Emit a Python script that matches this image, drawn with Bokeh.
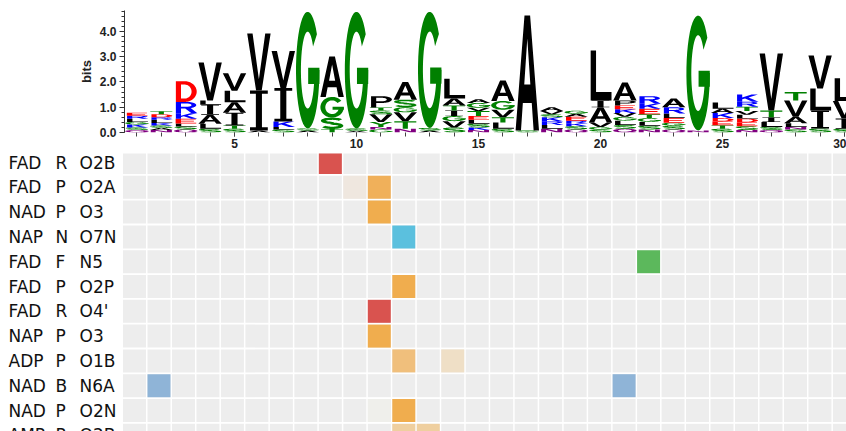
import math
from bokeh.plotting import figure
from bokeh.models import Range1d, FixedTicker, PrintfTickFormatter, ColumnDataSource
from bokeh.embed import file_html
from bokeh.resources import INLINE
from bokeh.core.properties import value

# ---------------- data ----------------
positions = list(range(1, 31))
# letters of each stack, bottom -> top, and their heights in bits
stack_letters = [
    "QSKGLRE", "NASKLRDT", "QSLEKRD", "SLAILV", "STIALV", "AIV", "SLKIV", "ASG",
    "TSGA", "ASG", "GNYVSTP", "NTVGSA", "ASG", "SVGITAL", "NKSLETVGA", "SLTVGA",
    "SA", "NLRKSVA", "QSKREAG", "SGVAIL", "QSLGVKEPA", "NSLGTEKR", "QSGELRA", "NG",
    "STEDKAL", "NSEDLVTRK", "QSLITV", "SNLAVT", "SILV", "SIVL",
]
stack_bits = [
    [0.10, 0.10, 0.12, 0.10, 0.12, 0.12, 0.12],
    [0.10, 0.08, 0.10, 0.10, 0.12, 0.10, 0.12, 0.12],
    [0.12, 0.12, 0.12, 0.18, 0.22, 0.45, 0.82],
    [0.15, 0.20, 0.35, 0.40, 0.17, 1.50],
    [0.15, 0.13, 0.50, 0.42, 0.45, 0.70],
    [0.08, 1.58, 2.26],
    [0.12, 0.10, 0.22, 1.32, 1.47],
    [0.08, 0.08, 4.62],
    [0.14, 0.45, 0.82, 1.60],
    [0.06, 0.10, 4.62],
    [0.12, 0.10, 0.20, 0.30, 0.15, 0.12, 0.45],
    [0.15, 0.30, 0.35, 0.20, 0.30, 0.70],
    [0.08, 0.10, 4.60],
    [0.20, 0.25, 0.20, 0.22, 0.20, 0.28, 0.78],
    [0.10, 0.10, 0.15, 0.15, 0.15, 0.20, 0.13, 0.19, 0.15],
    [0.15, 0.25, 0.20, 0.30, 0.35, 0.81],
    [0.08, 4.55],
    [0.15, 0.15, 0.15, 0.15, 0.12, 0.13, 0.15],
    [0.12, 0.13, 0.12, 0.10, 0.15, 0.12, 0.12],
    [0.12, 0.10, 0.18, 0.60, 0.27, 1.98],
    [0.15, 0.15, 0.17, 0.15, 0.15, 0.15, 0.15, 0.20, 0.71],
    [0.12, 0.15, 0.15, 0.15, 0.15, 0.22, 0.20, 0.30],
    [0.12, 0.15, 0.12, 0.18, 0.18, 0.25, 0.35],
    [0.08, 4.55],
    [0.15, 0.14, 0.15, 0.13, 0.20, 0.17, 0.25],
    [0.10, 0.15, 0.15, 0.15, 0.15, 0.15, 0.17, 0.20, 0.28],
    [0.10, 0.12, 0.20, 0.18, 0.27, 2.26],
    [0.12, 0.10, 0.15, 0.25, 0.65, 0.33],
    [0.16, 0.71, 0.87, 1.31],
    [0.15, 0.40, 0.70, 0.90],
]
x_tick_values = [5, 10, 15, 20, 25, 30]
y_tick_values = [0, 1, 2, 3, 4]

row_ligand = ["FAD", "FAD", "NAD", "NAP", "FAD", "FAD", "FAD", "NAP", "ADP", "NAD", "NAD", "AMP"]
row_type = ["R", "P", "P", "N", "F", "P", "R", "P", "P", "B", "P", "R"]
row_atom = ["O2B", "O2A", "O3", "O7N", "N5", "O2P", "O4'", "O3", "O1B", "N6A", "O2N", "O2B"]

hit_row = [1, 2, 2, 3, 4, 5, 6, 7, 8, 9, 9, 10, 10, 11, 11, 12, 12]
hit_col = [9, 10, 11, 11, 12, 22, 12, 11, 11, 12, 14, 2, 21, 11, 12, 12, 13]
hit_color = ["#d9534f", "#efe7df", "#f0b05a", "#f0ad4e", "#5bc0de", "#5cb85c", "#f0ad4e",
             "#d9534f", "#f0ad4e", "#f0bf7c", "#efdfc6", "#8fb4d7", "#8fb4d7", "#efefeb",
             "#f0ad4e", "#efcf9f", "#efcf9f"]

# ---------------- letter shapes (unit box) ----------------
def arc(cx, cy, rx, ry, a0, a1, n=40):
    pts = []
    for i in range(n + 1):
        a = math.radians(a0 + (a1 - a0) * i / n)
        pts.append((cx + rx * math.cos(a), cy + ry * math.sin(a)))
    return pts

def stroke(path, t):
    left, right = [], []
    n = len(path)
    for i, (x, y) in enumerate(path):
        xa, ya = path[max(i - 1, 0)]
        xb, yb = path[min(i + 1, n - 1)]
        dx, dy = xb - xa, yb - ya
        L = math.hypot(dx, dy) or 1.0
        nx, ny = -dy / L, dx / L
        left.append((x + nx * t, y + ny * t))
        right.append((x - nx * t, y - ny * t))
    return left + right[::-1]

def box(x0, y0, x1, y1):
    return [(x0, y0), (x1, y0), (x1, y1), (x0, y1)]

def ellipse(cx, cy, rx, ry):
    return arc(cx, cy, rx, ry, 0, 360, 60)[:-1]

SHAPES = {
    "A": [[[(0, 0), (0.23, 0), (0.31, 0.24), (0.69, 0.24), (0.77, 0), (1, 0), (0.62, 1), (0.38, 1)],
           [(0.37, 0.40), (0.63, 0.40), (0.5, 0.80)]]],
    "V": [[[(0, 1), (0.23, 1), (0.5, 0.2), (0.77, 1), (1, 1), (0.62, 0), (0.38, 0)]]],
    "L": [[[(0.08, 0), (0.97, 0), (0.97, 0.17), (0.31, 0.17), (0.31, 1), (0.08, 1)]]],
    "I": [[[(0.12, 0), (0.88, 0), (0.88, 0.08), (0.63, 0.08), (0.63, 0.92), (0.88, 0.92), (0.88, 1),
            (0.12, 1), (0.12, 0.92), (0.37, 0.92), (0.37, 0.08), (0.12, 0.08)]]],
    "G": [[arc(.5, .5, .5, .5, 38, 360) + arc(.5, .5, .29, .33, 360, 38)],
          [box(0.52, 0.38, 1.0, 0.52)]],
    "C": [[arc(.5, .5, .5, .5, 35, 325) + arc(.5, .5, .29, .33, 325, 35)]],
    "Q": [[ellipse(.5, .5, .5, .5), ellipse(.5, .5, .29, .33)],
          [[(0.55, 0.3), (0.72, 0.32), (1.0, 0.02), (0.83, 0.0)]]],
    "D": [[[(0.08, 0), (0.45, 0)] + arc(0.45, 0.5, 0.52, 0.5, -90, 90)[1:-1] + [(0.45, 1), (0.08, 1)],
           [(0.30, 0.16), (0.45, 0.16)] + arc(0.45, 0.5, 0.3, 0.34, -90, 90)[1:-1] + [(0.45, 0.84), (0.30, 0.84)]]],
    "R": [[[(0.08, 0), (0.3, 0), (0.3, 0.42), (0.48, 0.42), (0.75, 0), (1.0, 0), (0.71, 0.46)]
           + arc(0.55, 0.72, 0.4, 0.28, -65, 90)[1:] + [(0.08, 1)],
           [(0.3, 0.58), (0.55, 0.58)] + arc(0.55, 0.72, 0.2, 0.14, -90, 90)[1:-1] + [(0.55, 0.86), (0.3, 0.86)]]],
    "P": [[[(0.08, 0), (0.3, 0), (0.3, 0.4), (0.55, 0.4)] + arc(0.55, 0.7, 0.42, 0.3, -90, 90)[1:-1] + [(0.55, 1), (0.08, 1)],
           [(0.3, 0.55), (0.55, 0.55)] + arc(0.55, 0.7, 0.2, 0.15, -90, 90)[1:-1] + [(0.55, 0.85), (0.3, 0.85)]]],
    "K": [[[(0.08, 0), (0.3, 0), (0.3, 0.33), (0.42, 0.46), (0.74, 0), (1, 0), (0.57, 0.6), (0.97, 1),
            (0.7, 1), (0.3, 0.58), (0.3, 1), (0.08, 1)]]],
    "T": [[[(0.39, 0), (0.61, 0), (0.61, 0.83), (0.97, 0.83), (0.97, 1), (0.03, 1), (0.03, 0.83), (0.39, 0.83)]]],
    "S": [[stroke(arc(0.5, 0.72, 0.38, 0.18, 20, 270, 30) + arc(0.5, 0.28, 0.38, 0.18, 90, -160, 30), 0.1)]],
    "Y": [[[(0, 1), (0.25, 1), (0.5, 0.6), (0.75, 1), (1, 1), (0.61, 0.42), (0.61, 0), (0.39, 0), (0.39, 0.42)]]],
    "E": [[[(0.07, 0), (0.95, 0), (0.95, 0.16), (0.3, 0.16), (0.3, 0.43), (0.85, 0.43), (0.85, 0.58),
            (0.3, 0.58), (0.3, 0.84), (0.93, 0.84), (0.93, 1), (0.07, 1)]]],
    "F": [[[(0.07, 0), (0.3, 0), (0.3, 0.42), (0.85, 0.42), (0.85, 0.58), (0.3, 0.58), (0.3, 0.84),
            (0.95, 0.84), (0.95, 1), (0.07, 1)]]],
    "N": [[[(0.05, 0), (0.26, 0), (0.26, 0.65), (0.72, 0), (0.95, 0), (0.95, 1), (0.74, 1), (0.74, 0.35),
            (0.28, 1), (0.05, 1)]]],
    "M": [[[(0.03, 0), (0.22, 0), (0.22, 0.7), (0.42, 0), (0.58, 0), (0.78, 0.7), (0.78, 0), (0.97, 0),
            (0.97, 1), (0.7, 1), (0.5, 0.32), (0.3, 1), (0.03, 1)]]],
    "H": [[[(0.05, 0), (0.27, 0), (0.27, 0.42), (0.73, 0.42), (0.73, 0), (0.95, 0), (0.95, 1), (0.73, 1),
            (0.73, 0.58), (0.27, 0.58), (0.27, 1), (0.05, 1)]]],
    "W": [[[(0, 1), (0.18, 1), (0.3, 0.3), (0.42, 1), (0.58, 1), (0.7, 0.3), (0.82, 1), (1, 1), (0.8, 0),
            (0.6, 0), (0.5, 0.6), (0.4, 0), (0.2, 0)]]],
}

GREEN, PURPLE, BLUE, RED, BLACK = "#008000", "#800080", "#0000ff", "#ff0000", "#000000"
CHEM = {}
for c in "GSTYC":
    CHEM[c] = GREEN
for c in "NQ":
    CHEM[c] = PURPLE
for c in "KRH":
    CHEM[c] = BLUE
for c in "DE":
    CHEM[c] = RED
for c in "AVLIPWFM":
    CHEM[c] = BLACK

LETTER_W = 0.96
xs, ys, cols = [], [], []
for p, letters, bits in zip(positions, stack_letters, stack_bits):
    y0 = 0.0
    for ch, h in zip(letters, bits):
        for poly in SHAPES[ch]:
            xs.append([[[p - LETTER_W / 2 + LETTER_W * u for (u, v) in ring] for ring in poly]])
            ys.append([[[y0 + h * v for (u, v) in ring] for ring in poly]])
            cols.append(CHEM[ch])
        y0 += h

logo_src = ColumnDataSource(dict(xs=xs, ys=ys, color=cols))

# ---------------- logo figure ----------------
W = 846
LOGO_H = 153
PX = 24.4            # pixels per position in the logo
FRAME_LEFT = 124     # px from figure edge
POS1_PX = 12.4       # position 1 offset from frame left
lx0 = 1 - POS1_PX / PX
lx1 = lx0 + (W - FRAME_LEFT) / PX

p1 = figure(width=W, height=LOGO_H, x_range=Range1d(lx0, lx1), y_range=Range1d(0, 4.83),
            output_backend="svg", toolbar_location=None,
            min_border_left=FRAME_LEFT, min_border_right=0, min_border_top=10, min_border_bottom=21)
p1.outline_line_color = None
p1.xgrid.visible = False
p1.ygrid.visible = False
p1.multi_polygons(xs="xs", ys="ys", fill_color="color", line_color=None, source=logo_src)

xa = p1.xaxis[0]
xa.ticker = FixedTicker(ticks=x_tick_values, minor_ticks=positions)
xa.axis_line_color = None
xa.major_tick_in = 0
xa.major_tick_out = 4
xa.minor_tick_in = 0
xa.minor_tick_out = 4
xa.major_tick_line_color = "#444444"
xa.minor_tick_line_color = "#444444"
xa.major_label_standoff = 2
xa.major_label_text_font = "Liberation Sans"
xa.major_label_text_font_style = "bold"
xa.major_label_text_font_size = "12px"
xa.major_label_text_color = "#222222"

ya = p1.yaxis[0]
ya.ticker = FixedTicker(ticks=y_tick_values, minor_ticks=[round(0.2 * k, 1) for k in range(25)])
ya.formatter = PrintfTickFormatter(format="%.1f")
ya.axis_line_color = "#333333"
ya.major_tick_in = 0
ya.major_tick_out = 5
ya.minor_tick_in = 0
ya.minor_tick_out = 3
ya.major_tick_line_color = "#333333"
ya.minor_tick_line_color = "#333333"
ya.major_label_standoff = 3
ya.major_label_text_font = "Liberation Sans"
ya.major_label_text_font_style = "bold"
ya.major_label_text_font_size = "12px"
ya.major_label_text_color = "#222222"
ya.axis_label = "bits"
ya.axis_label_text_font = "Liberation Sans"
ya.axis_label_text_font_style = "bold"
ya.axis_label_text_font_size = "13px"
ya.axis_label_text_color = "#222222"
ya.axis_label_standoff = 3

# ---------------- heatmap figure ----------------
HM_H = 431 - LOGO_H
HPX = 24.48          # pixels per column
VPX = 24.8           # pixels per row
COL1_PX = 134        # centre of column 1 from figure left
ROW1_PX = 9          # centre of row 1 from figure top
hx0 = 1 - COL1_PX / HPX
hx1 = hx0 + W / HPX
hy_top = 1 - ROW1_PX / VPX
hy_bot = hy_top + HM_H / VPX

p2 = figure(width=W, height=HM_H, x_range=Range1d(hx0, hx1), y_range=Range1d(hy_bot, hy_top),
            output_backend="svg", toolbar_location=None, x_axis_location=None, y_axis_location=None,
            min_border=0)
p2.outline_line_color = None
p2.xgrid.visible = False
p2.ygrid.visible = False

nrows = len(row_ligand)
gx = [c for r in range(1, nrows + 1) for c in positions]
gy = [r for r in range(1, nrows + 1) for c in positions]
p2.rect(x=gx, y=gy, width=23 / HPX, height=23 / VPX, fill_color="#ededed", line_color=None)
p2.rect(x=hit_col, y=hit_row, width=23 / HPX, height=23 / VPX, fill_color=hit_color, line_color=None)

rows = list(range(1, nrows + 1))
def px_to_hx(px):
    return hx0 + px / HPX
for texts, px in ((row_ligand, 8), (row_type, 55), (row_atom, 79)):
    p2.text(x=[px_to_hx(px)] * nrows, y=rows, text=texts, text_font=value("DejaVu Sans"),
            text_font_size="17px", text_baseline="middle", text_align="left", text_color="#111111")

open("out.html", "w").write(file_html((p1, p2), INLINE))
